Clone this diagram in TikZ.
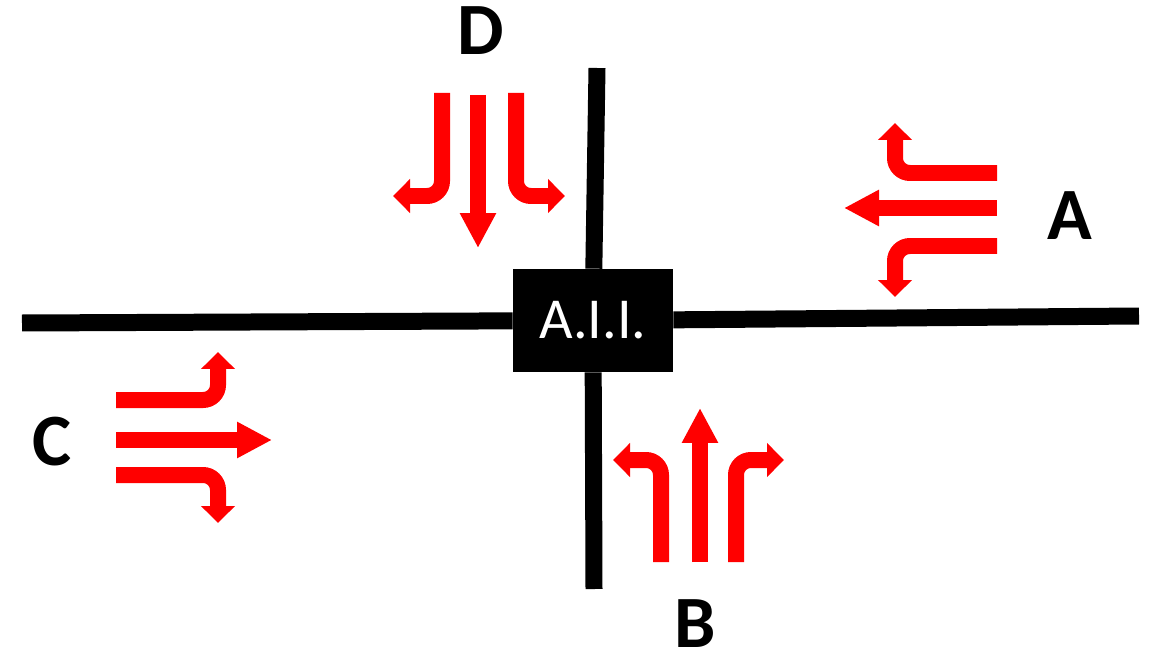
\documentclass[tikz,border=0pt]{standalone}
\usepackage{fontspec}
\setmainfont{Carlito}
\usetikzlibrary{arrows.meta}

\begin{document}
\begin{tikzpicture}[x=0.02cm,y=-0.02cm,
  road/.style={line width=0.34cm,black},
  lane/.style={line width=0.32cm,red,rounded corners=0.3cm,-{Triangle[length=0.34cm,width=0.66cm]}},
  through/.style={lane,-{Triangle[length=0.7cm,width=0.68cm]}},
  approach/.style={inner sep=0,font=\fontsize{42}{42}\selectfont\bfseries}]
\useasboundingbox (0,0) rectangle (1150,652);
\coordinate (west) at (22,323);
\coordinate (east) at (1139,316);
\coordinate (north) at (597,68);
\coordinate (south) at (594,589);
\node[fill=black,text=white,inner sep=0,minimum width=3.2cm,minimum height=2.06cm,
  font=\fontsize{33}{33}\selectfont] (aii) at (593,320.5) {A.I.I.};
\draw[road] (west) -- (aii);
\draw[road] (aii) -- (east);
\draw[road] (north) -- (aii);
\draw[road] (aii) -- (south);
\node[approach] (labA) at (1070,216) {A};
\node[approach] (labB) at (695,624) {B};
\node[approach] (labC) at (52,442) {C};
\node[approach] (labD) at (481,31) {D};
% D
\draw[lane] (442,93) -- (442,196) -- (393,196);
\draw[through] (478,95) -- (478,248);
\draw[lane] (516,93) -- (516,196) -- (565,196);
% A
\draw[lane] (997,173) -- (895,173) -- (895,123);
\draw[through] (997,208) -- (844,208);
\draw[lane] (997,246) -- (895,246) -- (895,297);
% C
\draw[lane] (116,400) -- (218,400) -- (218,352);
\draw[through] (116,440) -- (272,440);
\draw[lane] (116,475) -- (218,475) -- (218,523);
% B
\draw[lane] (661,562) -- (661,460) -- (613,460);
\draw[through] (700,562) -- (700,408);
\draw[lane] (736,562) -- (736,460) -- (784,460);
\end{tikzpicture}
\end{document}
